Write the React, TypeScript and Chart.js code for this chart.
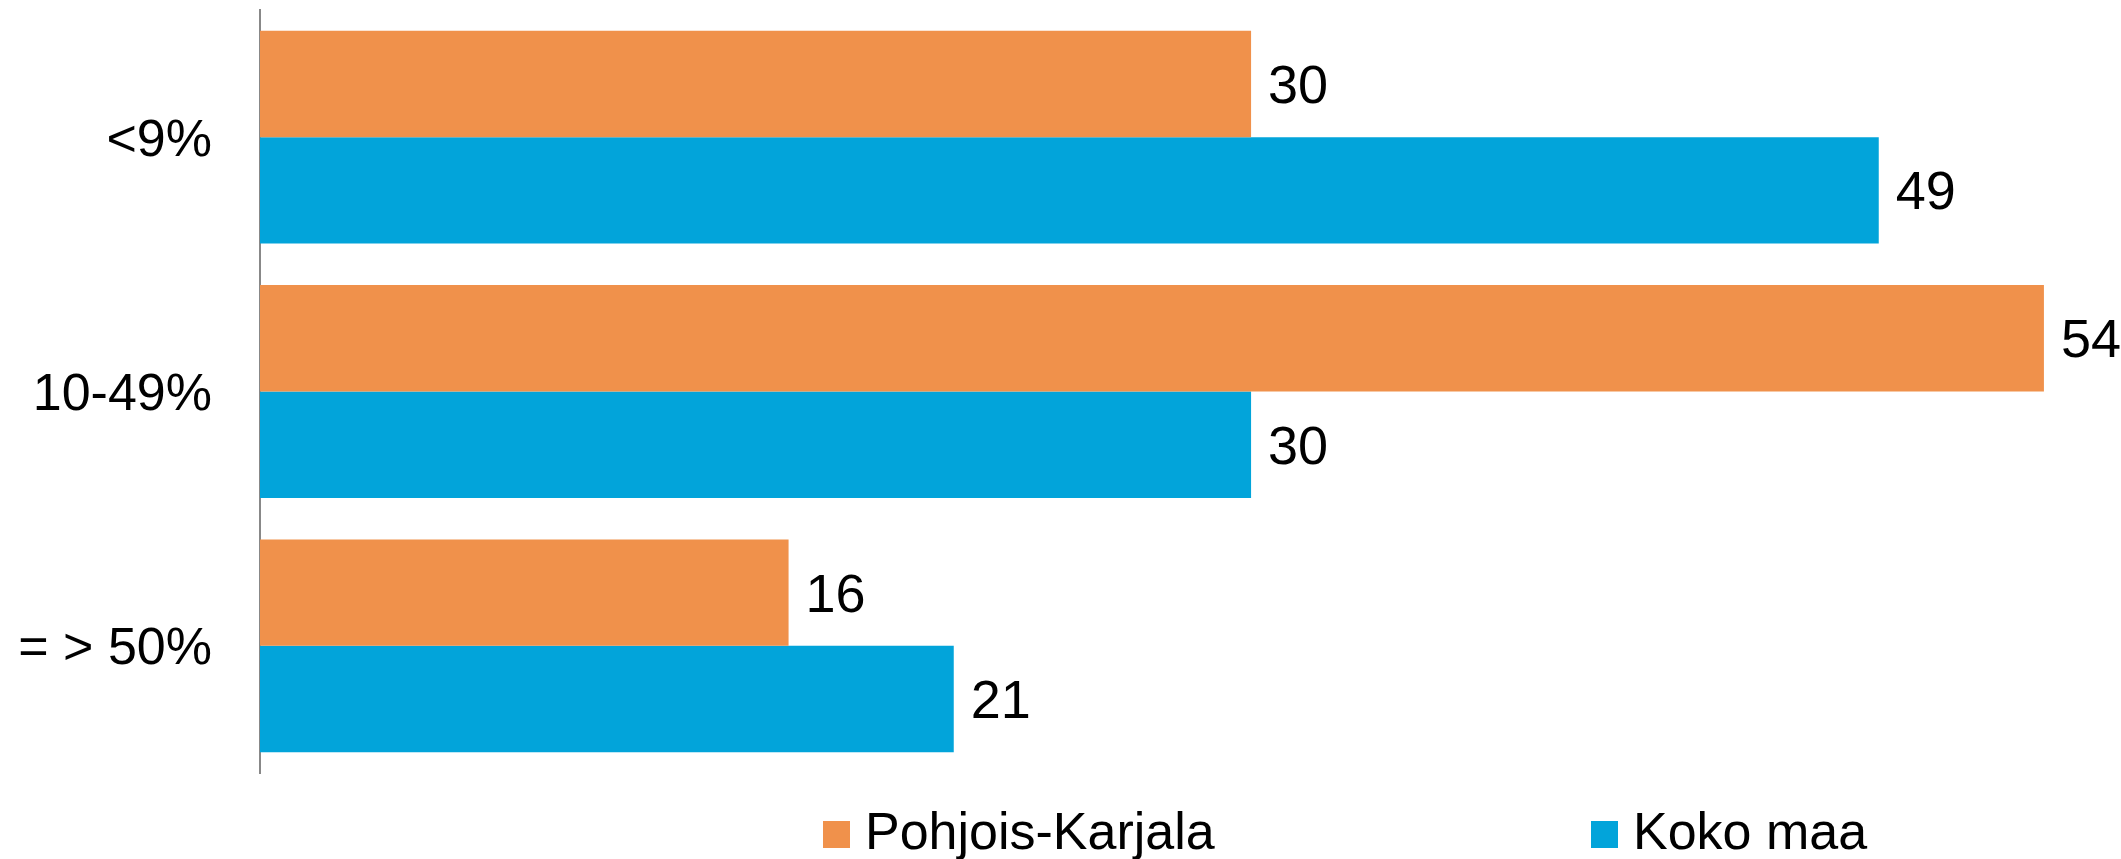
import React, { useEffect, useRef } from "react";
import { Chart, registerables } from "chart.js";

Chart.register(...registerables);

const categories = ["<9%", "10-49%", "= > 50%"];
const seriesNames = ["Pohjois-Karjala", "Koko maa"];
const pohjoisKarjala = [30, 54, 16];
const kokoMaa = [49, 30, 21];
const colors = ["#F0914B", "#02A4DA"];

const FONT = "'Liberation Sans', Arial, Helvetica, sans-serif";

const valueLabels = {
  id: "valueLabels",
  afterDatasetsDraw(chart: any) {
    const ctx = chart.ctx;
    ctx.save();
    ctx.font = `54px ${FONT}`;
    ctx.fillStyle = "#000000";
    ctx.textAlign = "left";
    ctx.textBaseline = "alphabetic";
    chart.data.datasets.forEach((ds: any, di: number) => {
      const meta = chart.getDatasetMeta(di);
      meta.data.forEach((bar: any, i: number) => {
        ctx.fillText(String(ds.data[i]), bar.x + 17, bar.y + 19);
      });
    });
    ctx.restore();
  },
};

const customLegend = {
  id: "customLegend",
  afterDraw(chart: any) {
    const ctx = chart.ctx;
    const boxX = [823, 1591];
    const boxSize = 27;
    const boxTop = 821;
    const baseline = 849;
    ctx.save();
    ctx.font = `52px ${FONT}`;
    ctx.textAlign = "left";
    ctx.textBaseline = "alphabetic";
    chart.data.datasets.forEach((ds: any, i: number) => {
      ctx.fillStyle = ds.backgroundColor;
      ctx.fillRect(boxX[i], boxTop, boxSize, boxSize);
      ctx.fillStyle = "#000000";
      ctx.fillText(ds.label, boxX[i] + boxSize + 15, baseline);
    });
    ctx.restore();
  },
};

export default function App() {
  const canvasRef = useRef<HTMLCanvasElement | null>(null);

  useEffect(() => {
    document.body.style.margin = "0";
    document.body.style.overflow = "hidden";
    const canvas = canvasRef.current;
    if (!canvas) return;
    const chart = new Chart(canvas, {
      type: "bar",
      data: {
        labels: categories,
        datasets: [
          {
            label: seriesNames[0],
            data: pohjoisKarjala,
            backgroundColor: colors[0],
            borderWidth: 0,
            categoryPercentage: 0.837,
            barPercentage: 1,
          },
          {
            label: seriesNames[1],
            data: kokoMaa,
            backgroundColor: colors[1],
            borderWidth: 0,
            categoryPercentage: 0.837,
            barPercentage: 1,
          },
        ],
      },
      options: {
        indexAxis: "y",
        responsive: false,
        animation: false,
        maintainAspectRatio: false,
        layout: { padding: { left: 0, right: 11, top: 10, bottom: 86 } },
        plugins: {
          legend: { display: false },
          tooltip: { enabled: false },
        },
        scales: {
          x: {
            display: false,
            min: 0,
            max: 56,
          },
          y: {
            grid: { display: false, drawTicks: false },
            border: { display: true, color: "#888888", width: 2 },
            ticks: {
              color: "#000000",
              padding: 48,
              labelOffset: 4,
              font: { family: FONT, size: 52 },
            },
            afterFit(scale: any) {
              scale.width = 260;
              scale.paddingTop = 0;
              scale.paddingBottom = 0;
            },
          },
        },
      },
      plugins: [valueLabels, customLegend],
    });
    return () => chart.destroy();
  }, []);

  return (
    <div style={{ width: 2121, height: 859, background: "#ffffff" }}>
      <canvas ref={canvasRef} width={2121} height={859} style={{ display: "block" }} />
    </div>
  );
}
